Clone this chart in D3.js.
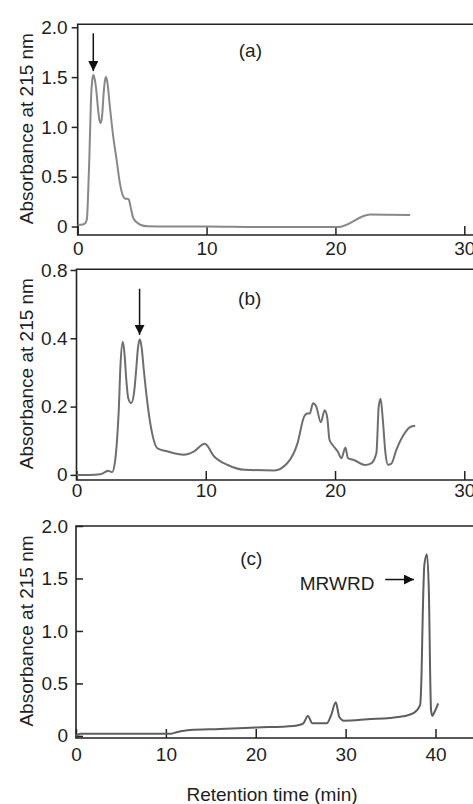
<!DOCTYPE html>
<html>
<head>
<meta charset="utf-8">
<script src="https://cdn.jsdelivr.net/npm/d3@7"></script>
<style>
  body { margin: 0; background: #fff; }
  svg { display: block; font-family: "Liberation Sans", Arial, sans-serif; }
</style>
</head>
<body>
<svg width="473" height="804"></svg>
<script>
// chromatogram (a)
var timeA = [0, 0.4, 0.62, 0.72, 0.8, 0.9, 1.03, 1.13, 1.21, 1.32, 1.45, 1.6, 1.72, 1.8, 1.9, 2.02, 2.12, 2.2, 2.3, 2.5,
             2.76, 3.02, 3.28, 3.54, 3.7, 3.85, 3.97, 4.1, 4.3, 4.6, 4.9, 5.4, 7, 10, 14, 18, 20.2, 22.7, 25.8];
var absA = [0.015, 0.02, 0.04, 0.08, 0.3, 0.67, 1.27, 1.47, 1.52, 1.48, 1.36, 1.15, 1.05, 1.04, 1.12, 1.35, 1.47, 1.5, 1.45, 1.2,
            0.9, 0.67, 0.43, 0.3, 0.28, 0.28, 0.27, 0.2, 0.09, 0.04, 0.015, 0.003, 0, 0, -0.005, -0.005, -0.005, 0.12, 0.115];

// chromatogram (b)
var timeB = [0, 1, 1.85, 2.2, 2.4, 2.75, 3.0, 3.15, 3.27, 3.4, 3.58, 3.7, 3.85, 4.0, 4.23, 4.45, 4.6, 4.75, 4.9, 5.05,
             5.2, 5.52, 5.86, 6.25, 7.0, 8.3, 9.1, 9.92, 10.65, 11.7, 13, 15.3, 16.3, 17.1, 17.6, 17.85, 18.05, 18.3, 18.55, 18.9,
             19.2, 19.4, 19.57, 19.8, 20.2, 20.5, 20.8, 21.0, 21.5, 22.3, 22.8, 23.2, 23.38, 23.53, 23.7, 23.9, 24.1, 24.36, 24.75, 25.27,
             25.8, 26.2];
var absB = [0.0, 0.0, 0.002, 0.008, 0.012, 0.008, 0.045, 0.11, 0.19, 0.32, 0.39, 0.36, 0.28, 0.225, 0.21, 0.24, 0.3, 0.37, 0.397, 0.37,
            0.31, 0.2, 0.12, 0.078, 0.069, 0.059, 0.069, 0.091, 0.054, 0.029, 0.015, 0.013, 0.034, 0.093, 0.17, 0.18, 0.18, 0.21, 0.2, 0.154,
            0.189, 0.167, 0.103, 0.088, 0.069, 0.049, 0.08, 0.049, 0.043, 0.029, 0.034, 0.064, 0.2, 0.223, 0.16, 0.064, 0.03, 0.033, 0.074, 0.115,
            0.14, 0.144];

// chromatogram (c)
var timeC = [0, 0.5, 1, 10, 10.5, 11.2, 12.7, 16, 20.1, 24.2, 24.6, 25.3, 25.8, 26.3, 27.9, 28.4, 28.9, 29.3, 29.8, 32.4,
             36.1, 37.6, 38.28, 38.45, 38.58, 38.76, 39.05, 39.28, 39.39, 39.5, 39.65, 39.85, 40.3];
var absC = [0.0, 0.02, 0.02, 0.02, 0.02, 0.035, 0.056, 0.065, 0.08, 0.095, 0.1, 0.12, 0.19, 0.12, 0.12, 0.2, 0.32, 0.18, 0.145, 0.158,
            0.183, 0.22, 0.29, 0.6, 1.15, 1.63, 1.73, 1.31, 0.67, 0.25, 0.19, 0.22, 0.31];

var xTicksAB = [0, 10, 20, 30],
    xTicksC = [0, 10, 20, 30, 40],
    yTicksA = [0, 0.5, 1.0, 1.5, 2.0],
    yLabelsA = ["0", "0.5", "1.0", "1.5", "2.0"],
    yTicksB = [0, 0.2, 0.4, 0.6],
    yLabelsB = ["0", "0.2", "0.4", "0.8"],   // printed that way in the figure
    yTicksC = [0, 0.5, 1.0, 1.5, 2.0],
    yLabelsC = ["0", "0.5", "1.0", "1.5", "2.0"];

var svg = d3.select("svg"),
    W = 473,
    fontSize = 19,
    axisColor = "#222";

var panels = [
  { tag: "(a)", t: timeA, v: absA, xTicks: xTicksAB, xMax: 30, left: 77.7, right: 464.3, top: 24.3, bottom: 235,
    yDomain: [-0.085, 2.03], yTicks: yTicksA, yLabels: yLabelsA, yTickSize: 6, yPad: 4, xPad: 7,
    color: "#888", tagPos: [13.4, 1.70], arrow: { x: 1.21, y0: 1.94, y1: 1.56 } },
  { tag: "(b)", t: timeB, v: absB, xTicks: xTicksAB, xMax: 30, left: 76.5, right: 464.3, top: 269.3, bottom: 480,
    yDomain: [-0.015, 0.602], yTicks: yTicksB, yLabels: yLabelsB, yTickSize: 6, yPad: 3, xPad: 4,
    color: "#6e6e6e", tagPos: [13.4, 0.497], arrow: { x: 4.88, y0: 0.545, y1: 0.41 } },
  { tag: "(c)", t: timeC, v: absC, xTicks: xTicksC, xMax: 40, left: 76, right: 435.5, top: 526, bottom: 738,
    yDomain: [-0.02, 2.0], yTicks: yTicksC, yLabels: yLabelsC, yTickSize: -7, yPad: 8, xPad: 10,
    color: "#5e5e5e", tagPos: [19.5, 1.63] }
];

var defs = svg.append("defs");
defs.append("marker")
    .attr("id", "head")
    .attr("viewBox", "0 0 10 10")
    .attr("refX", 10)
    .attr("refY", 5)
    .attr("markerWidth", 10)
    .attr("markerHeight", 10)
    .attr("markerUnits", "userSpaceOnUse")
    .attr("orient", "auto")
  .append("path")
    .attr("d", "M0,0L10,5L0,10Z")
    .attr("fill", "#111");

panels.forEach(function(p) {
  var x = d3.scaleLinear().domain([0, p.xMax]).range([p.left, p.right]);
  var y = d3.scaleLinear().domain(p.yDomain).range([p.bottom, p.top]);
  var g = svg.append("g");

  // frame (right edge runs off the picture)
  g.append("path")
      .attr("d", "M" + (W + 20) + "," + p.top + "H" + p.left + "V" + p.bottom + "H" + (W + 20))
      .attr("fill", "none")
      .attr("stroke", axisColor)
      .attr("stroke-width", 1.6);

  var yAxis = d3.axisLeft(y)
      .tickValues(p.yTicks)
      .tickFormat(function(d, i) { return p.yLabels[i]; })
      .tickSize(p.yTickSize)
      .tickPadding(p.yPad);
  var ya = g.append("g")
      .attr("transform", "translate(" + p.left + ",0)")
      .call(yAxis);

  var xAxis = d3.axisBottom(x)
      .tickValues(p.xTicks)
      .tickFormat(d3.format("d"))
      .tickSize(-9)
      .tickPadding(p.xPad);
  var xa = g.append("g")
      .attr("transform", "translate(0," + p.bottom + ")")
      .call(xAxis);

  [ya, xa].forEach(function(a) {
    a.select(".domain").remove();
    a.selectAll("line").attr("stroke", axisColor).attr("stroke-width", 1.5);
    a.selectAll("text")
        .attr("fill", "#1e1e1e")
        .style("font-size", fontSize + "px")
        .style("font-family", "Liberation Sans, Arial, sans-serif");
  });

  // the chromatogram trace
  var line = d3.line()
      .x(function(d, i) { return x(p.t[i]); })
      .y(function(d) { return y(d); })
      .curve(d3.curveMonotoneX);

  g.append("path")
      .datum(p.v)
      .attr("d", line)
      .attr("fill", "none")
      .attr("stroke", p.color)
      .attr("stroke-width", 2)
      .attr("stroke-linejoin", "round");

  g.append("text")
      .attr("x", x(p.tagPos[0]))
      .attr("y", y(p.tagPos[1]))
      .attr("text-anchor", "middle")
      .style("font-size", fontSize + "px")
      .attr("fill", "#1e1e1e")
      .text(p.tag);

  if (p.arrow) {
    g.append("line")
        .attr("x1", x(p.arrow.x)).attr("x2", x(p.arrow.x))
        .attr("y1", y(p.arrow.y0)).attr("y2", y(p.arrow.y1))
        .attr("stroke", "#111")
        .attr("stroke-width", 1.5)
        .attr("marker-end", "url(#head)");
  }

  // y title
  g.append("text")
      .attr("transform", "translate(33," + ((p.top + p.bottom) / 2 - 1) + ") rotate(-90)")
      .attr("text-anchor", "middle")
      .style("font-size", fontSize + "px")
      .attr("fill", "#1e1e1e")
      .text("Absorbance at 215 nm");

  p.x = x; p.y = y; p.g = g;
});

// MRWRD label in (c)
var pc = panels[2];
pc.g.append("text")
    .attr("x", pc.x(24.9))
    .attr("y", pc.y(1.39))
    .style("font-size", fontSize + "px")
    .attr("fill", "#1e1e1e")
    .text("MRWRD");
pc.g.append("line")
    .attr("x1", pc.x(34.4)).attr("x2", pc.x(37.6))
    .attr("y1", pc.y(1.49)).attr("y2", pc.y(1.49))
    .attr("stroke", "#111")
    .attr("stroke-width", 1.5)
    .attr("marker-end", "url(#head)");

svg.append("text")
    .attr("x", 272)
    .attr("y", 801)
    .attr("text-anchor", "middle")
    .style("font-size", fontSize + "px")
    .attr("fill", "#1e1e1e")
    .text("Retention time (min)");
</script>
</body>
</html>
